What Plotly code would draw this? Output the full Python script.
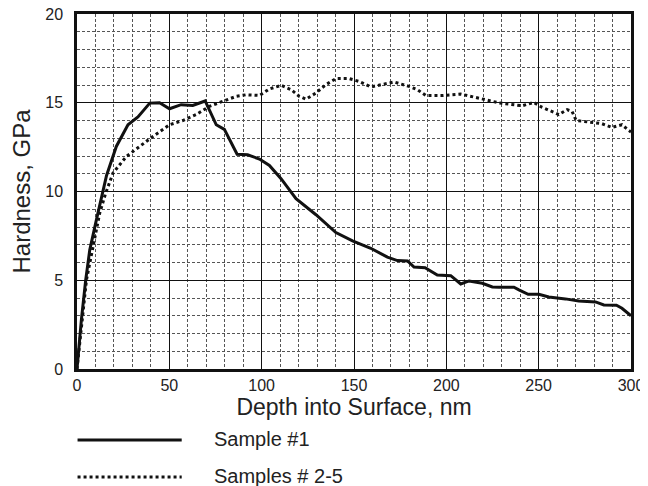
import plotly.graph_objects as go

# ---- data ----
s1_x = [0, 2.4, 4.7, 6.9, 10.5, 13.2, 16, 21.3, 27.6, 33, 39.4, 44.7, 50.1, 56.4, 62.7, 69.4,
        75.4, 79.8, 86.7, 92.4, 98.8, 104.2, 110.5, 118.6, 129.4, 140.2, 149.2, 159.1, 168.1,
        173.5, 179, 182.5, 188.5, 195.1, 202.4, 207.8, 212.3, 219.5, 224.9, 228.5, 236.6, 239.3,
        244.3, 250.1, 255.5, 264.5, 271.7, 280.8, 285.3, 292.1, 295.1, 300]
s1_y = [0, 2.8, 5.0, 6.7, 8.4, 9.7, 10.9, 12.54, 13.76, 14.2, 14.98, 15.0, 14.66, 14.89, 14.85, 15.1,
        13.76, 13.5, 12.1, 12.07, 11.83, 11.47, 10.72, 9.6, 8.69, 7.69, 7.22, 6.8, 6.3,
        6.11, 6.09, 5.74, 5.71, 5.3, 5.26, 4.79, 4.96, 4.83, 4.62, 4.61, 4.61, 4.46,
        4.21, 4.21, 4.06, 3.95, 3.83, 3.78, 3.61, 3.59, 3.42, 3.0]

s25_x = [0, 2.6, 5.1, 8.7, 12.3, 15.5, 19.5, 26.7, 33.9, 41.1, 50.1, 57.3, 64.5, 71.7, 78.9, 86.2,
         91.6, 98.8, 104.2, 110.5, 115.9, 120.4, 124, 129.4, 134.8, 140.2, 147.4, 152.8, 159.1,
         164.5, 171.7, 179.8, 184.3, 188.9, 197.9, 207.8, 214.1, 221.3, 228.5, 237.5, 241.1,
         247.4, 251.9, 259.1, 260.9, 265.4, 268.1, 270.3, 277.1, 284.3, 289.7, 295.1, 298.8, 300]
s25_y = [0, 2.6, 5.0, 6.9, 8.78, 9.9, 11.04, 11.97, 12.54, 13.1, 13.76, 14.0, 14.33, 14.8, 15.08, 15.36,
         15.45, 15.41, 15.78, 15.98, 15.74, 15.36, 15.2, 15.55, 16.02, 16.36, 16.36, 16.2, 15.89,
         16.02, 16.17, 15.92, 15.74, 15.41, 15.41, 15.49, 15.36, 15.17, 14.99, 14.89, 14.83,
         15.02, 14.74, 14.42, 14.33, 14.61, 14.51, 14.0, 13.91, 13.82, 13.61, 13.76, 13.44, 13.35]

series_names = ["Sample #1", "Samples # 2-5"]
x_tickvals = [0, 50, 100, 150, 200, 250, 300]
y_tickvals = [0, 5, 10, 15, 20]

FONT = "Liberation Sans, Arial, sans-serif"

fig = go.Figure()
fig.add_trace(go.Scatter(x=s1_x, y=s1_y, mode="lines", name=series_names[0],
                         line=dict(color="#111", width=3), showlegend=False))
fig.add_trace(go.Scatter(x=s25_x, y=s25_y, mode="lines", name=series_names[1],
                         line=dict(color="#111", width=3, dash="3px,3px"), showlegend=False))

axis_common = dict(
    showline=True, mirror=True, linewidth=2.5, linecolor="#111",
    showgrid=True, gridcolor="#111", gridwidth=1.3, automargin=False,
    zeroline=False, ticks="", ticklabeloverflow="allow",
    tickfont=dict(family=FONT, size=16, color="#222"),
)

fig.update_xaxes(range=[0, 300], tickvals=x_tickvals, ticklabelstandoff=0,
                 minor=dict(dtick=10, showgrid=True, gridcolor="#555", gridwidth=1, griddash="3px,2px"),
                 title=dict(text="Depth into Surface, nm", font=dict(family=FONT, size=23, color="#222"),
                            standoff=0),
                 **axis_common)
fig.update_yaxes(range=[0, 20], tickvals=y_tickvals, ticklabelstandoff=8,
                 minor=dict(dtick=1, showgrid=True, gridcolor="#555", gridwidth=1, griddash="3px,2px"),
                 title=dict(text="Hardness, GPa", font=dict(family=FONT, size=24, color="#222"),
                            standoff=10),
                 **axis_common)

# custom legend (long line samples)
fig.add_shape(type="line", xref="paper", yref="paper", x0=0.001, x1=0.189, y0=-0.2, y1=-0.2,
              line=dict(color="#111", width=3))
fig.add_shape(type="line", xref="paper", yref="paper", x0=0.001, x1=0.189, y0=-0.304, y1=-0.304,
              line=dict(color="#111", width=3, dash="3px,3px"))
for name, yy in zip(series_names, [-0.196, -0.302]):
    fig.add_annotation(text=name, xref="paper", yref="paper", x=0.243, y=yy, xanchor="left",
                       yanchor="middle", showarrow=False,
                       font=dict(family=FONT, size=20, color="#222"))

# page body has an 8px margin; size the figure so the plot lands where the reference has it
fig.update_layout(
    width=640, height=478,
    margin=dict(l=69, r=17, t=6, b=117),
    paper_bgcolor="white", plot_bgcolor="white",
)

fig.write_html("out.html")
